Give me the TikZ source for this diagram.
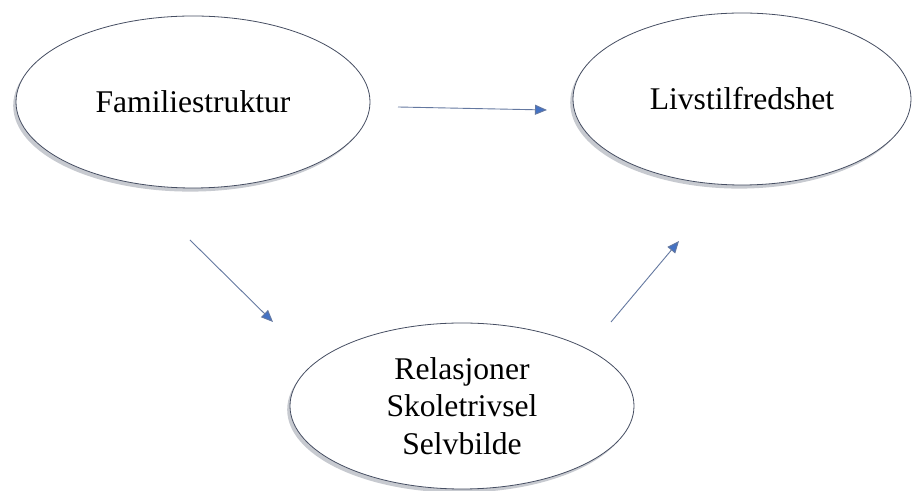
\documentclass[tikz,border=0pt]{standalone}
\usepackage{fontspec}
\setmainfont{Liberation Serif}
\usepackage{tikz}
\usetikzlibrary{shapes.geometric, shadows, arrows.meta}

\definecolor{rimgrey}{RGB}{70,78,98}
\definecolor{arrowblue}{RGB}{68,114,196}
\definecolor{lineblue}{RGB}{100,120,160}

\tikzset{
	bubble/.style={ellipse, draw=rimgrey, thin, fill=white, align=center,
		font=\fontsize{15.8}{18.6}\selectfont,
		drop shadow={shadow xshift=-1.4pt, shadow yshift=-1.8pt, opacity=0.3, fill=rimgrey}},
	link/.style={draw=lineblue, line width=0.45pt, -{Triangle[length=6pt, width=5pt, fill=arrowblue]}}
}

\begin{document}
\begin{tikzpicture}[x=0.5pt, y=-0.5pt]
		\useasboundingbox (0,0) rectangle (912,491);
		\node[bubble, minimum width=177pt, minimum height=86pt] (famil) at (193,102) {Familiestruktur};
		\node[bubble, minimum width=169pt, minimum height=86pt] (livs) at (742,99) {Livstilfredshet};
		\node[bubble, minimum width=172pt, minimum height=83pt] (relas) at (462,406) {Relasjoner\\Skoletrivsel\\Selvbilde};
		\coordinate (a1) at (398,107);
		\coordinate (b1) at (547,110);
		\coordinate (a2) at (190,240);
		\coordinate (b2) at (273,322);
		\coordinate (a3) at (611,322);
		\coordinate (b3) at (679,241);
		\draw[link] (a1) -- (b1);
		\draw[link] (a2) -- (b2);
		\draw[link] (a3) -- (b3);
\end{tikzpicture}
\end{document}
